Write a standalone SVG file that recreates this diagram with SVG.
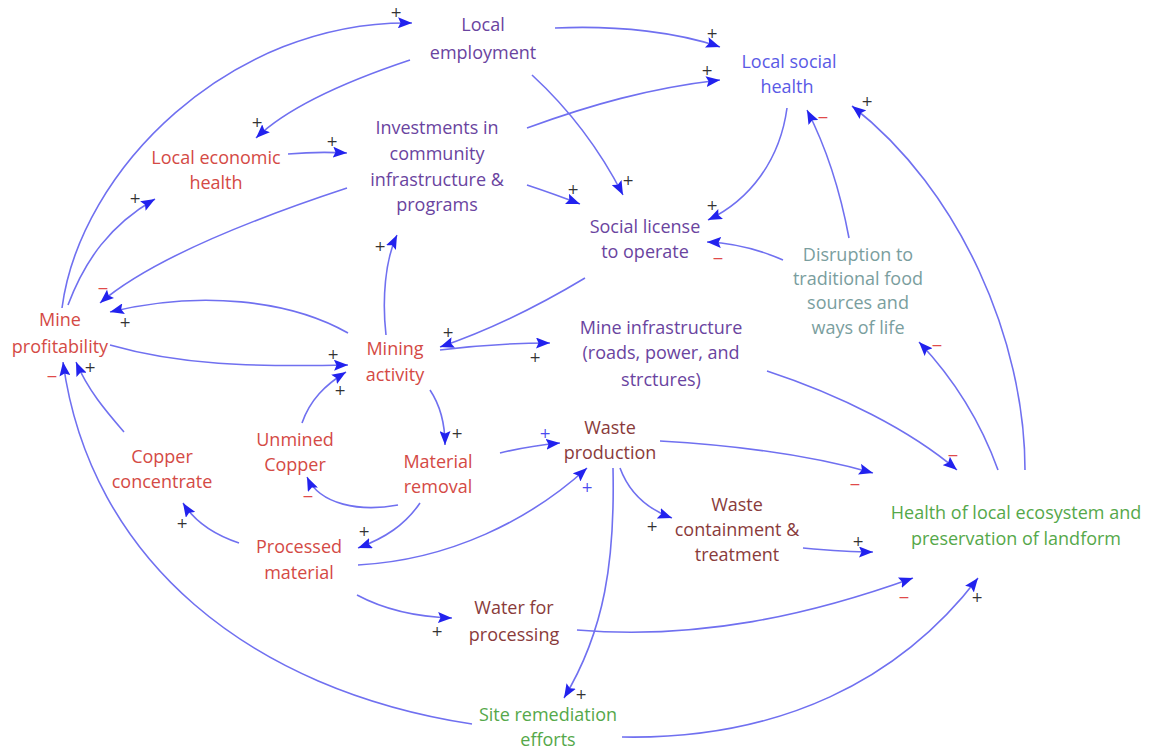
<svg xmlns="http://www.w3.org/2000/svg" width="1151" height="751" viewBox="0 0 1151 751">
<style>
.lbl{font-family:"Open Sans","Liberation Sans",sans-serif;font-size:18px;text-anchor:middle}
.red{fill:#d44a45}
.pur{fill:#6a44a0}
.blu{fill:#5a5ae6}
.brn{fill:#8a3b3b}
.gry{fill:#7a9e9e}
.grn{fill:#55a84a}
.e{fill:none;stroke:#7070f0;stroke-width:1.6;marker-end:url(#ah)}
.p{font-family:"DejaVu Sans",sans-serif;font-size:14px;fill:#333;text-anchor:middle;dominant-baseline:central}
.pb{font-family:"DejaVu Sans",sans-serif;font-size:14px;fill:#4a4af0;text-anchor:middle;dominant-baseline:central}
.m{font-family:"DejaVu Sans",sans-serif;font-size:14px;fill:#e04a4a;text-anchor:middle;dominant-baseline:central}
</style>
<defs>
<marker id="ah" markerUnits="userSpaceOnUse" markerWidth="15" markerHeight="11" refX="14" refY="5.5" orient="auto">
<path d="M0,0 L14,5.5 L0,11 L2.5,5.5 z" fill="#2222ee"/>
</marker>
</defs>
<rect width="1151" height="751" fill="#ffffff"/>
<g id="connectors">
<path class="e" d="M62 308 C80 170 230 20 412 23"/>
<path class="e" d="M68 305 C85 260 110 225 155 199"/>
<path class="e" d="M410 60 C350 80 290 105 256 138"/>
<path class="e" d="M288 154 C310 152 330 152 347 153"/>
<path class="e" d="M347 188 C250 220 150 260 100 303"/>
<path class="e" d="M348 333 C290 300 200 290 110 312"/>
<path class="e" d="M110 345 C180 365 250 367 348 365"/>
<path class="e" d="M302 423 C310 400 325 385 346 372"/>
<path class="e" d="M386 335 C382 300 385 260 397 235"/>
<path class="e" d="M555 28 C620 25 680 33 720 47"/>
<path class="e" d="M527 128 C590 105 650 88 720 80"/>
<path class="e" d="M532 75 C570 110 600 150 623 195"/>
<path class="e" d="M527 185 C545 191 562 197 580 204"/>
<path class="e" d="M787 108 C780 160 750 200 708 220"/>
<path class="e" d="M783 260 C760 250 735 243 707 242"/>
<path class="e" d="M849 238 C840 190 825 145 807 110"/>
<path class="e" d="M1025 470 C1025 340 960 190 852 106"/>
<path class="e" d="M998 470 C980 420 955 380 919 342"/>
<path class="e" d="M767 371 C840 395 910 430 957 470"/>
<path class="e" d="M660 441 C730 445 810 455 873 473"/>
<path class="e" d="M585 278 C540 305 490 330 440 347"/>
<path class="e" d="M440 350 C480 345 515 343 550 343"/>
<path class="e" d="M430 390 C440 405 445 425 445 445"/>
<path class="e" d="M500 453 C520 448 540 445 560 443"/>
<path class="e" d="M358 565 C450 560 530 520 587 468"/>
<path class="e" d="M620 468 C630 495 650 510 672 518"/>
<path class="e" d="M613 468 C615 560 605 630 564 698"/>
<path class="e" d="M398 505 C360 512 320 505 307 477"/>
<path class="e" d="M420 503 C405 525 385 538 358 548"/>
<path class="e" d="M239 543 C215 535 195 522 183 503"/>
<path class="e" d="M124 432 C105 410 88 390 76 362"/>
<path class="e" d="M472 724 C250 690 90 560 63 362"/>
<path class="e" d="M357 595 C385 610 420 617 452 618"/>
<path class="e" d="M577 630 C700 640 810 615 913 578"/>
<path class="e" d="M622 737 C780 740 900 680 978 578"/>
<path class="e" d="M803 548 C825 550 850 552 873 552"/>
<text class="p" x="396" y="12">+</text>
<text class="p" x="135" y="198">+</text>
<text class="p" x="257" y="122">+</text>
<text class="p" x="332" y="141">+</text>
<text class="m" x="103" y="288">−</text>
<text class="p" x="125" y="322">+</text>
<text class="p" x="333" y="354">+</text>
<text class="p" x="340" y="390">+</text>
<text class="p" x="380" y="246">+</text>
<text class="p" x="712" y="33">+</text>
<text class="p" x="707" y="70">+</text>
<text class="p" x="628" y="180">+</text>
<text class="p" x="573" y="189">+</text>
<text class="p" x="712" y="205">+</text>
<text class="m" x="718" y="258">−</text>
<text class="m" x="823" y="117">−</text>
<text class="p" x="867" y="101">+</text>
<text class="m" x="937" y="345">−</text>
<text class="m" x="953" y="455">−</text>
<text class="m" x="855" y="484">−</text>
<text class="p" x="448" y="332">+</text>
<text class="p" x="535" y="357">+</text>
<text class="p" x="457" y="433">+</text>
<text class="pb" x="545" y="433">+</text>
<text class="pb" x="587" y="487">+</text>
<text class="p" x="652" y="526">+</text>
<text class="p" x="581" y="694">+</text>
<text class="m" x="308" y="496">−</text>
<text class="p" x="364" y="531">+</text>
<text class="p" x="182" y="523">+</text>
<text class="p" x="90" y="367">+</text>
<text class="m" x="52" y="376">−</text>
<text class="p" x="437" y="631">+</text>
<text class="m" x="904" y="597">−</text>
<text class="p" x="977" y="597">+</text>
<text class="p" x="858" y="541">+</text>
</g>
<g id="local-employment"><text class="lbl pur" x="483" y="31">Local</text><text class="lbl pur" x="483" y="59">employment</text></g>
<g id="local-social-health"><text class="lbl blu" x="789" y="68">Local social</text><text class="lbl blu" x="787" y="93">health</text></g>
<g id="local-economic-health"><text class="lbl red" x="216" y="164">Local economic</text><text class="lbl red" x="216" y="189">health</text></g>
<g id="investments"><text class="lbl pur" x="437" y="134">Investments in</text><text class="lbl pur" x="437" y="160">community</text><text class="lbl pur" x="437" y="186">infrastructure &amp;</text><text class="lbl pur" x="437" y="211">programs</text></g>
<g id="social-license"><text class="lbl pur" x="645" y="233">Social license</text><text class="lbl pur" x="645" y="258">to operate</text></g>
<g id="disruption"><text class="lbl gry" x="858" y="261">Disruption to</text><text class="lbl gry" x="858" y="285">traditional food</text><text class="lbl gry" x="858" y="309">sources and</text><text class="lbl gry" x="858" y="334">ways of life</text></g>
<g id="mine-profitability"><text class="lbl red" x="60" y="326">Mine</text><text class="lbl red" x="60" y="353">profitability</text></g>
<g id="mining-activity"><text class="lbl red" x="395" y="355">Mining</text><text class="lbl red" x="395" y="381">activity</text></g>
<g id="mine-infrastructure"><text class="lbl pur" x="661" y="334">Mine infrastructure</text><text class="lbl pur" x="661" y="359">(roads, power, and</text><text class="lbl pur" x="661" y="386">strctures)</text></g>
<g id="unmined-copper"><text class="lbl red" x="295" y="446">Unmined</text><text class="lbl red" x="295" y="471">Copper</text></g>
<g id="material-removal"><text class="lbl red" x="438" y="468">Material</text><text class="lbl red" x="438" y="493">removal</text></g>
<g id="waste-production"><text class="lbl brn" x="610" y="434">Waste</text><text class="lbl brn" x="610" y="459">production</text></g>
<g id="copper-concentrate"><text class="lbl red" x="162" y="463">Copper</text><text class="lbl red" x="162" y="488">concentrate</text></g>
<g id="processed-material"><text class="lbl red" x="299" y="553">Processed</text><text class="lbl red" x="299" y="579">material</text></g>
<g id="waste-containment"><text class="lbl brn" x="737" y="511">Waste</text><text class="lbl brn" x="737" y="536">containment &amp;</text><text class="lbl brn" x="737" y="561">treatment</text></g>
<g id="water-for-processing"><text class="lbl brn" x="514" y="614">Water for</text><text class="lbl brn" x="514" y="641">processing</text></g>
<g id="site-remediation"><text class="lbl grn" x="548" y="721">Site remediation</text><text class="lbl grn" x="548" y="746">efforts</text></g>
<g id="ecosystem-health"><text class="lbl grn" x="1016" y="519">Health of local ecosystem and</text><text class="lbl grn" x="1016" y="545">preservation of landform</text></g>
</svg>
